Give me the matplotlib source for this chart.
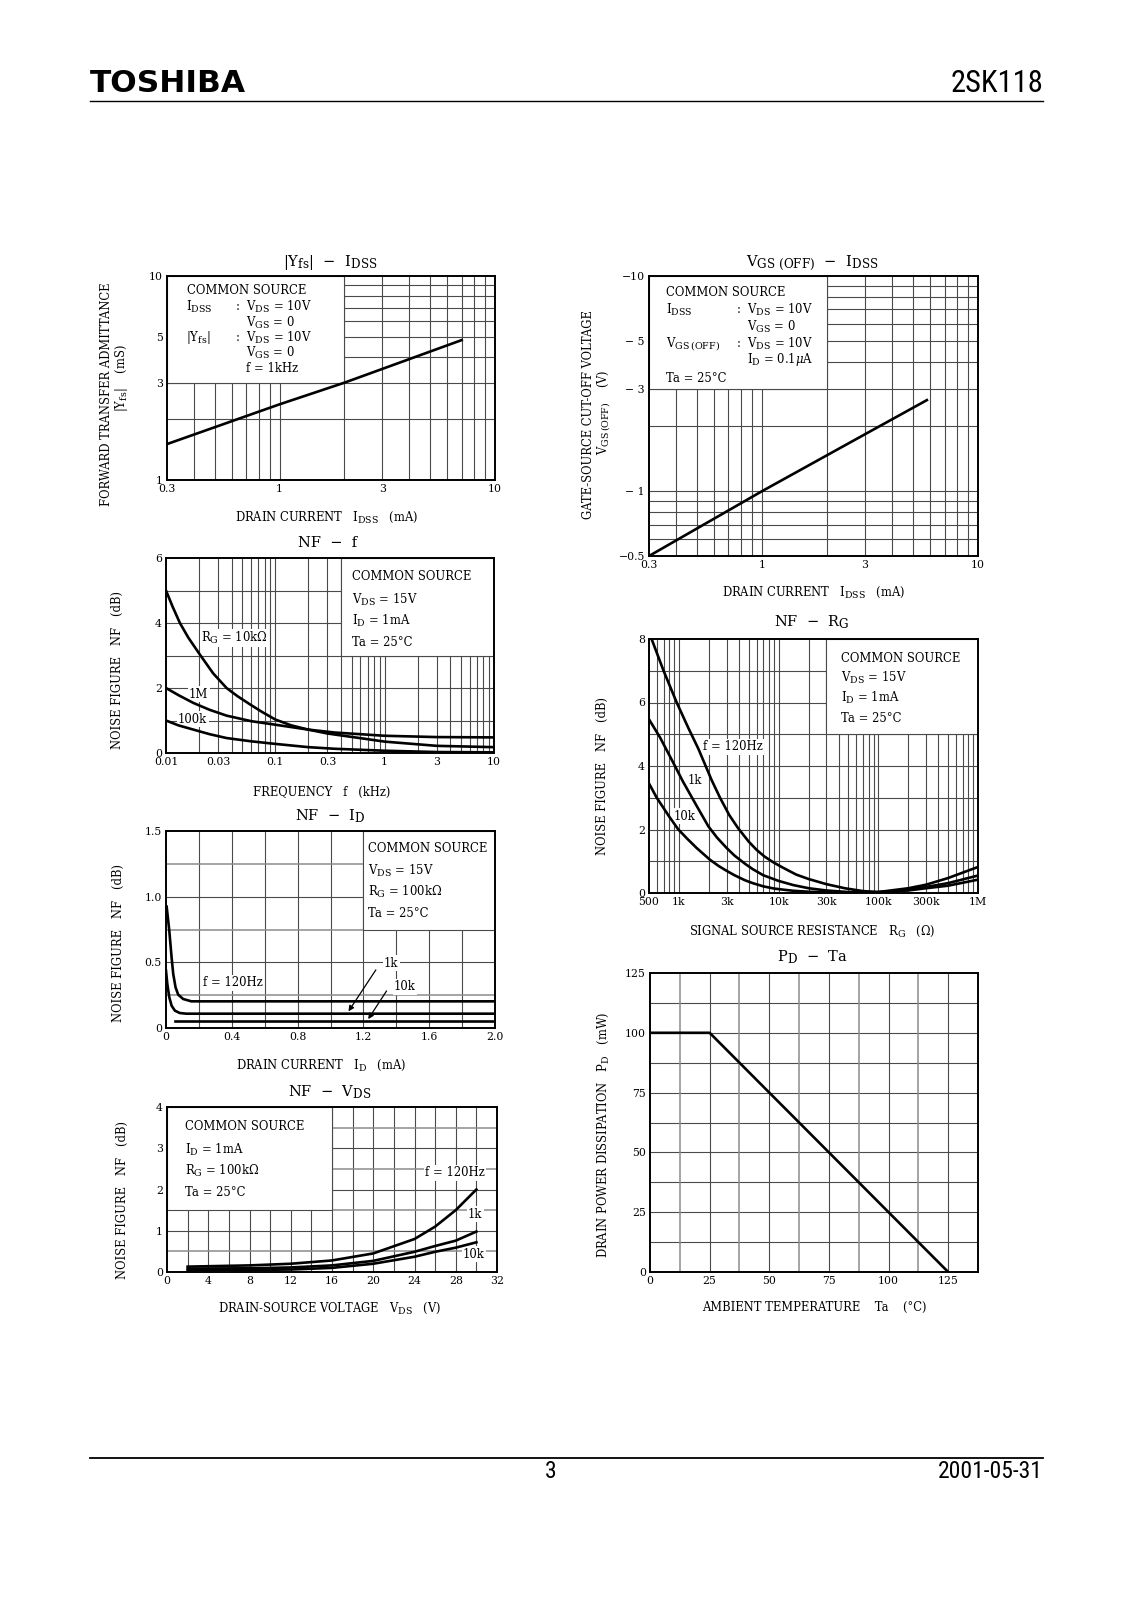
import matplotlib
matplotlib.use('Agg')
import math
import matplotlib.pyplot as plt
from matplotlib.patches import Rectangle
from matplotlib.lines import Line2D
from matplotlib import font_manager as fm
import numpy as np

try:
    import matplotlib._mathtext as _mt
    _mt.SHRINK_FACTOR = 0.82
except Exception:
    pass

# ---------------- data ----------------
# |Yfs| - IDSS
yfs_idss = [0.3, 1.0, 2.0, 7.0]
yfs_val = [1.5, 2.35, 3.0, 4.85]

# VGS(OFF) - IDSS
voff_idss = [0.3, 1.0, 3.0, 5.8]
voff_val = [-0.5, -1.0, -1.84, -2.65]

# NF - f  (f in kHz)
nff_f_10k = [0.01, 0.0115, 0.0134, 0.016, 0.0204, 0.027, 0.0358, 0.045, 0.0584, 0.075,
             0.1, 0.14, 0.2, 0.3, 0.59, 1, 3, 10]
nff_nf_10k = [5.0, 4.5, 4.0, 3.55, 3.03, 2.45, 2.0, 1.75, 1.5, 1.27,
              1.03, 0.85, 0.72, 0.6, 0.46, 0.35, 0.22, 0.18]
nff_f_1M = [0.01, 0.013, 0.0178, 0.025, 0.0358, 0.06, 0.1, 0.2, 0.35, 0.59, 1, 3, 10]
nff_nf_1M = [2.0, 1.78, 1.54, 1.33, 1.15, 0.98, 0.87, 0.72, 0.63, 0.58, 0.53, 0.49, 0.48]
nff_f_100k = [0.01, 0.013, 0.0178, 0.025, 0.0358, 0.06, 0.1, 0.2, 0.35, 0.59, 1, 3, 10]
nff_nf_100k = [1.0, 0.85, 0.72, 0.58, 0.46, 0.36, 0.28, 0.18, 0.13, 0.1, 0.07, 0.03, 0.02]

# NF - RG (ohm)
rg_120 = [531, 700, 948, 1240, 1560, 2130, 2580, 3200, 3900, 5000, 6000, 7200, 8800,
          11000, 15000, 20000, 30000, 46000, 70000, 100000, 200000, 300000, 500000, 1e6]
nf_rg_120 = [8.0, 7.0, 6.0, 5.2, 4.55, 3.55, 3.0, 2.45, 2.05, 1.62, 1.36, 1.15, 0.97,
             0.8, 0.58, 0.44, 0.28, 0.15, 0.06, 0.03, 0.15, 0.26, 0.47, 0.82]
rg_1k = [500, 645, 877, 1100, 1500, 1970, 2400, 3000, 3600, 4600, 5500, 7000, 10000,
         14000, 20000, 30000, 50000, 100000, 200000, 300000, 500000, 1e6]
nf_rg_1k = [5.47, 4.9, 4.1, 3.5, 2.75, 2.1, 1.75, 1.42, 1.18, 0.92, 0.75, 0.56, 0.38,
            0.25, 0.15, 0.08, 0.03, 0.02, 0.1, 0.19, 0.31, 0.55]
rg_10k = [500, 598, 800, 985, 1200, 1500, 2040, 2500, 3000, 3600, 4600, 5500, 7000,
          9000, 11500, 14000, 20000, 30000, 50000, 100000, 200000, 300000, 500000, 1e6]
nf_rg_10k = [3.45, 3.0, 2.4, 2.0, 1.72, 1.42, 1.05, 0.85, 0.7, 0.56, 0.4, 0.31, 0.21,
             0.14, 0.1, 0.07, 0.04, 0.02, 0.01, 0.03, 0.08, 0.15, 0.23, 0.42]

# NF - ID (mA)
id_120 = [0.004, 0.02, 0.034, 0.044, 0.058, 0.074, 0.104, 0.154, 2.0]
nf_id_120 = [0.924, 0.741, 0.538, 0.411, 0.31, 0.254, 0.221, 0.203, 0.203]
id_1k = [0.0, 0.008, 0.02, 0.034, 0.054, 0.084, 0.124, 2.0]
nf_id_1k = [0.437, 0.335, 0.234, 0.17, 0.132, 0.114, 0.109, 0.109]
id_10k = [0.054, 2.0]
nf_id_10k = [0.05, 0.05]

# NF - VDS (V)
vds_v = [2, 4, 8, 12, 16, 20, 24, 26, 28, 30]
nf_vds_120 = [0.13, 0.14, 0.16, 0.2, 0.28, 0.45, 0.8, 1.1, 1.5, 2.0]
nf_vds_1k = [0.08, 0.085, 0.09, 0.11, 0.16, 0.27, 0.49, 0.63, 0.76, 0.98]
nf_vds_10k = [0.04, 0.045, 0.05, 0.06, 0.1, 0.2, 0.37, 0.49, 0.59, 0.72]

# PD - Ta
ta_c = [0, 25, 125]
pd_mw = [100, 100, 0]

# ---------------- style ----------------
W, H = 1131, 1600
plt.rcParams['font.family'] = ['DejaVu Serif']
plt.rcParams['mathtext.fontset'] = 'dejavuserif'


def find_condensed():
    pref = ['liberation sans narrow', 'roboto condensed', 'open sans condensed',
            'dejavu sans condensed']
    cands = []
    for f in fm.fontManager.ttflist:
        n = f.name.lower()
        fn = f.fname.lower()
        if f.style != 'normal':
            continue
        if 'bold' in fn or 'italic' in fn or 'oblique' in fn or 'light' in fn:
            continue
        if ('narrow' in n or 'condensed' in n or 'condensed' in fn or 'narrow' in fn
                or str(f.stretch) in ('condensed', 'semi-condensed')):
            cands.append(f)
    for p in pref:
        for f in cands:
            if p in f.name.lower() or p.replace(' ', '') in f.fname.lower().replace('-', '').replace('_', ''):
                return f.fname
    return cands[0].fname if cands else None


COND = find_condensed()


def cond_props(size):
    if COND:
        return fm.FontProperties(fname=COND, size=size)
    return fm.FontProperties(family='DejaVu Sans', size=size)


GC = '#4a4a4a'
GC2 = '#8c8c8c'
GLW = 0.8
CLW = 1.9
FS_T = 10.5
FS_B = 8.4
FS_L = 8.3
FS_K = 7.8

fig = plt.figure(figsize=(W / 100, H / 100), dpi=100)


def px_axes(x0, y0, x1, y1):
    return fig.add_axes([x0 / W, 1 - y1 / H, (x1 - x0) / W, (y1 - y0) / H])


def ftext(x, y, s, **kw):
    return fig.text(x / W, 1 - y / H, s, **kw)


def atext(ax, x, y, s, bg=False, **kw):
    kw.setdefault('fontsize', FS_B)
    kw.setdefault('va', 'center')
    if bg:
        kw['bbox'] = dict(facecolor='white', edgecolor='none', pad=1.0)
    return ax.text(x / W, 1 - y / H, s, transform=fig.transFigure, zorder=2.5, **kw)


def setup(ax, xlim, ylim, xlog=False, ylog=False):
    if xlog:
        ax.set_xscale('log')
    if ylog:
        ax.set_yscale('log')
    ax.set_xlim(*xlim)
    ax.set_ylim(*ylim)
    ax.minorticks_off()
    ax.tick_params(length=0, labelsize=FS_K, pad=3)
    for s in ax.spines.values():
        s.set_linewidth(1.4)
        s.set_zorder(5)


def grid(ax, xs, ys, xs2=(), ys2=()):
    for x in xs:
        ax.axvline(x, color=GC, lw=GLW, zorder=1)
    for y in ys:
        ax.axhline(y, color=GC, lw=GLW, zorder=1)
    for x in xs2:
        ax.axvline(x, color=GC2, lw=1.1, zorder=1)
    for y in ys2:
        ax.axhline(y, color=GC2, lw=1.1, zorder=1)


def box(ax, x0, x1, y0, y1):
    ax.add_patch(Rectangle((x0, y0), x1 - x0, y1 - y0, facecolor='white',
                           edgecolor=GC, lw=GLW, zorder=1.5))


def title(x, y, s):
    ftext(x, y + 4, s, ha='center', va='baseline', fontsize=FS_T)


def xlabel(x, y, s):
    ftext(x, y + 3, s, ha='center', va='baseline', fontsize=FS_L)


def ylabel(x, y, s):
    ftext(x, y, s, ha='center', va='center', rotation=90, fontsize=FS_L)


def logs(a, b):
    d = 10 ** math.floor(math.log10(a) + 1e-9)
    out = []
    while d < b:
        out += [d * k for k in range(1, 10)]
        d *= 10
    return [v for v in out if a * 1.0001 < v < b * 0.9999]

# ---------------- header / footer ----------------
ftext(90, 83, 'TOSHIBA', fontsize=22.5, fontweight='heavy', family='DejaVu Sans', va='center')
ftext(1043, 83, '2SK118', fontproperties=cond_props(22), ha='right', va='center')
fig.add_artist(Line2D([90 / W, 1043 / W], [1 - 101 / H] * 2, lw=1.0, color='black'))
fig.add_artist(Line2D([90 / W, 1043 / W], [1 - 1458 / H] * 2, lw=1.3, color='black'))
ftext(551, 1472, '3', fontproperties=cond_props(17), ha='center', va='center')
ftext(1043, 1472, '2001-05-31', fontproperties=cond_props(17), ha='right', va='center')

# ---------------- 1: |Yfs| - IDSS ----------------
ax = px_axes(167, 276, 495, 480)
setup(ax, (0.3, 10), (1, 10), xlog=True, ylog=True)
grid(ax, logs(0.3, 10), logs(1, 10))
box(ax, 0.3, 2, 3, 10)
ax.plot(yfs_idss, yfs_val, color='black', lw=CLW, zorder=3)
ax.set_xticks([0.3, 1, 3, 10], ['0.3', '1', '3', '10'])
ax.set_yticks([1, 3, 5, 10], ['1', '3', '5', '10'])
title(330, 262, r'$|\mathrm{Y_{fs}}|$  −  $\mathrm{I_{DSS}}$')
xlabel(327, 518, r'DRAIN CURRENT   $\mathrm{I_{DSS}}$   (mA)')
ylabel(107, 394, 'FORWARD TRANSFER ADMITTANCE')
ylabel(121, 378, r'$|\mathrm{Y_{fs}}|$    (mS)')
atext(ax, 187, 290, 'COMMON SOURCE')
atext(ax, 186, 307, r'$\mathrm{I_{DSS}}$')
atext(ax, 235, 307, r':  $\mathrm{V_{DS}}$ = 10V')
atext(ax, 246, 323, r'$\mathrm{V_{GS}}$ = 0')
atext(ax, 186, 338, r'$|\mathrm{Y_{fs}}|$')
atext(ax, 235, 338, r':  $\mathrm{V_{DS}}$ = 10V')
atext(ax, 246, 353, r'$\mathrm{V_{GS}}$ = 0')
atext(ax, 246, 368, 'f = 1kHz')

# ---------------- 2: VGS(OFF) - IDSS ----------------
ax = px_axes(649, 276, 978, 556)
setup(ax, (0.3, 10), (0.5, 10), xlog=True, ylog=True)
grid(ax, logs(0.3, 10), logs(0.5, 10))
box(ax, 0.3, 2, 3, 10)
ax.plot(voff_idss, np.abs(voff_val), color='black', lw=CLW, zorder=3)
ax.set_xticks([0.3, 1, 3, 10], ['0.3', '1', '3', '10'])
ax.set_yticks([0.5, 1, 3, 5, 10], ['−0.5', '− 1', '− 3', '− 5', '−10'])
title(812, 263, r'$\mathrm{V_{GS\ (OFF)}}$  −  $\mathrm{I_{DSS}}$')
xlabel(814, 593, r'DRAIN CURRENT   $\mathrm{I_{DSS}}$   (mA)')
ylabel(589, 415, 'GATE-SOURCE CUT-OFF VOLTAGE')
ylabel(604, 412, r'$\mathrm{V_{GS\,(OFF)}}$    (V)')
atext(ax, 666, 292, 'COMMON SOURCE')
atext(ax, 666, 310, r'$\mathrm{I_{DSS}}$')
atext(ax, 736, 310, r':  $\mathrm{V_{DS}}$ = 10V')
atext(ax, 747, 327, r'$\mathrm{V_{GS}}$ = 0')
atext(ax, 666, 344, r'$\mathrm{V_{GS\,(OFF)}}$')
atext(ax, 736, 344, r':  $\mathrm{V_{DS}}$ = 10V')
atext(ax, 747, 360, r'$\mathrm{I_D}$ = 0.1$\mu$A')
atext(ax, 666, 378, 'Ta = 25°C')

# ---------------- 3: NF - f ----------------
ax = px_axes(166, 558, 494, 753)
setup(ax, (0.01, 10), (0, 6), xlog=True)
grid(ax, logs(0.01, 10), [1, 2, 3, 4, 5])
box(ax, 0.4, 10, 3, 6)
for xs, ys in [(nff_f_10k, nff_nf_10k), (nff_f_1M, nff_nf_1M), (nff_f_100k, nff_nf_100k)]:
    ax.plot(xs, ys, color='black', lw=CLW, zorder=3)
ax.set_xticks([0.01, 0.03, 0.1, 0.3, 1, 3, 10],
              ['0.01', '0.03', '0.1', '0.3', '1', '3', '10'])
ax.set_yticks([0, 2, 4, 6], ['0', '2', '4', '6'])
title(328, 543, 'NF  −  f')
xlabel(322, 793, 'FREQUENCY   f   (kHz)')
ylabel(117, 670, 'NOISE FIGURE   NF   (dB)')
atext(ax, 352, 577, 'COMMON SOURCE')
atext(ax, 352, 600, r'$\mathrm{V_{DS}}$ = 15V')
atext(ax, 352, 621, r'$\mathrm{I_D}$ = 1mA')
atext(ax, 352, 642, 'Ta = 25°C')
atext(ax, 201, 638, r'$\mathrm{R_G}$ = 10k$\Omega$', bg=True)
atext(ax, 189, 694, '1M', bg=True)
atext(ax, 178, 719, '100k', bg=True)

# ---------------- 4: NF - RG ----------------
ax = px_axes(649, 639, 978, 893)
setup(ax, (500, 1e6), (0, 8), xlog=True)
grid(ax, logs(500, 1e6), [1, 2, 3, 4, 5, 6, 7])
box(ax, 30000, 1e6, 5, 8)
for xs, ys in [(rg_120, nf_rg_120), (rg_1k, nf_rg_1k), (rg_10k, nf_rg_10k)]:
    ax.plot(xs, ys, color='black', lw=CLW, zorder=3)
ax.set_xticks([500, 1e3, 3e3, 1e4, 3e4, 1e5, 3e5, 1e6],
              ['500', '1k', '3k', '10k', '30k', '100k', '300k', '1M'])
ax.set_yticks([0, 2, 4, 6, 8], ['0', '2', '4', '6', '8'])
title(812, 623, r'NF  −  $\mathrm{R_G}$')
xlabel(812, 932, r'SIGNAL SOURCE RESISTANCE   $\mathrm{R_G}$   ($\Omega$)')
ylabel(602, 776, 'NOISE FIGURE   NF   (dB)')
atext(ax, 841, 658, 'COMMON SOURCE')
atext(ax, 841, 678, r'$\mathrm{V_{DS}}$ = 15V')
atext(ax, 841, 698, r'$\mathrm{I_D}$ = 1mA')
atext(ax, 841, 718, 'Ta = 25°C')
atext(ax, 703, 747, 'f = 120Hz', bg=True)
atext(ax, 688, 781, '1k', bg=True)
atext(ax, 674, 816, '10k', bg=True)

# ---------------- 5: NF - ID ----------------
ax = px_axes(166, 831, 495, 1028)
setup(ax, (0, 2.0), (0, 1.5))
grid(ax, [0.2, 0.4, 0.6, 0.8, 1.0, 1.2, 1.4, 1.6, 1.8], [0.5, 1.0],
     ys2=[0.25, 0.75, 1.25])
box(ax, 1.2, 2.0, 0.75, 1.5)
for xs, ys in [(id_120, nf_id_120), (id_1k, nf_id_1k), (id_10k, nf_id_10k)]:
    ax.plot(xs, ys, color='black', lw=CLW, zorder=3)
ax.set_xticks([0, 0.4, 0.8, 1.2, 1.6, 2.0], ['0', '0.4', '0.8', '1.2', '1.6', '2.0'])
ax.set_yticks([0, 0.5, 1.0, 1.5], ['0', '0.5', '1.0', '1.5'])
ax.annotate('', xy=(1.1, nf_id_1k[-1]), xytext=(1.285, 0.46),
            arrowprops=dict(arrowstyle='-|>', color='black', lw=0.9, mutation_scale=8), zorder=4)
ax.annotate('', xy=(1.22, nf_id_10k[-1]), xytext=(1.35, 0.30),
            arrowprops=dict(arrowstyle='-|>', color='black', lw=0.9, mutation_scale=8), zorder=4)
title(330, 817, r'NF  −  $\mathrm{I_D}$')
xlabel(321, 1066, r'DRAIN CURRENT   $\mathrm{I_D}$   (mA)')
ylabel(118, 943, 'NOISE FIGURE   NF   (dB)')
atext(ax, 368, 848, 'COMMON SOURCE')
atext(ax, 368, 871, r'$\mathrm{V_{DS}}$ = 15V')
atext(ax, 368, 892, r'$\mathrm{R_G}$ = 100k$\Omega$')
atext(ax, 368, 913, 'Ta = 25°C')
atext(ax, 203, 983, 'f = 120Hz', bg=True)
atext(ax, 384, 963, '1k', bg=True)
atext(ax, 394, 987, '10k', bg=True)

# ---------------- 6: NF - VDS ----------------
ax = px_axes(167, 1107, 497, 1272)
setup(ax, (0, 32), (0, 4))
grid(ax, list(range(2, 32, 2)), [1, 2, 3], ys2=[0.5, 1.5, 2.5, 3.5])
box(ax, 0, 16, 1.5, 4)
for ys in [nf_vds_120, nf_vds_1k, nf_vds_10k]:
    ax.plot(vds_v, ys, color='black', lw=CLW, zorder=3)
ax.set_xticks(list(range(0, 33, 4)), [str(v) for v in range(0, 33, 4)])
ax.set_yticks([0, 1, 2, 3, 4], ['0', '1', '2', '3', '4'])
title(330, 1093, r'NF  −  $\mathrm{V_{DS}}$')
xlabel(330, 1309, r'DRAIN-SOURCE VOLTAGE   $\mathrm{V_{DS}}$   (V)')
ylabel(122, 1200, 'NOISE FIGURE   NF   (dB)')
atext(ax, 185, 1127, 'COMMON SOURCE')
atext(ax, 185, 1150, r'$\mathrm{I_D}$ = 1mA')
atext(ax, 185, 1171, r'$\mathrm{R_G}$ = 100k$\Omega$')
atext(ax, 185, 1192, 'Ta = 25°C')
atext(ax, 425, 1173, 'f = 120Hz', bg=True)
atext(ax, 468, 1214, '1k', bg=True)
atext(ax, 463, 1254, '10k', bg=True)

# ---------------- 7: PD - Ta ----------------
ax = px_axes(650, 973, 978, 1272)
setup(ax, (0, 137.5), (0, 125))
grid(ax, [25 * k for k in range(1, 6)], [12.5 * k for k in range(1, 10)],
     xs2=[12.5 + 25 * k for k in range(0, 5)])
ax.plot(ta_c, pd_mw, color='black', lw=CLW, zorder=3)
ax.set_xticks([0, 25, 50, 75, 100, 125], ['0', '25', '50', '75', '100', '125'])
ax.set_yticks([0, 25, 50, 75, 100, 125], ['0', '25', '50', '75', '100', '125'])
title(812, 958, r'$\mathrm{P_D}$  −  Ta')
xlabel(814, 1308, 'AMBIENT TEMPERATURE    Ta    (°C)')
ylabel(603, 1135, r'DRAIN POWER DISSIPATION   $\mathrm{P_D}$   (mW)')

fig.savefig('out.png', dpi=100)
